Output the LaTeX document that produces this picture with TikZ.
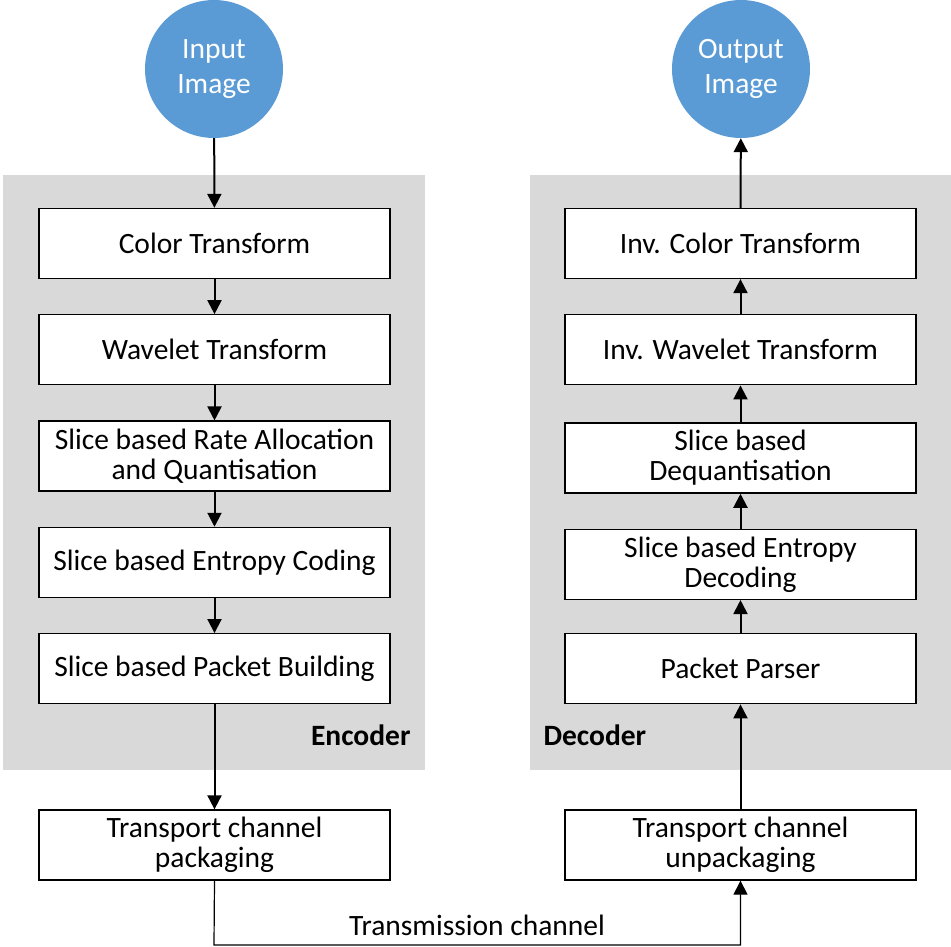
\documentclass[tikz,border=0pt]{standalone}
\usepackage{fontspec}
\setmainfont{Carlito}
\usetikzlibrary{positioning,arrows.meta}
\definecolor{imgblue}{HTML}{5B9BD5}
\definecolor{panelgray}{HTML}{D9D9D9}

\begin{document}
\begin{tikzpicture}[x=1pt, y=-1pt,
        stagebox/.style={rectangle, draw=black, fill=white, line width=1.3pt, minimum width=351pt, minimum height=70pt, inner sep=0pt, align=center, font=\fontsize{29.5}{30}\selectfont},
        imgnode/.style={circle, fill=imgblue, minimum size=138pt, inner sep=0pt, align=center, text=white, font=\fontsize{29.5}{35}\selectfont},
        grouplabel/.style={font=\fontsize{29.5}{30}\selectfont\bfseries},
        flow/.style={-{Triangle[length=14pt, width=14pt]}, line width=2pt},
        chanline/.style={-{Triangle[length=14pt, width=14pt]}, line width=1.2pt}]

        \useasboundingbox (0,0) rectangle (951,947);

        % encoder and decoder panels
        \fill[panelgray] (3,175) rectangle (425,770);
        \fill[panelgray] (530,175) rectangle (951,770);

        \node[imgnode] (inimg) at (214,69) {Input\\Image};
        \node[imgnode] (outimg) at (741,69) {Output\\Image};

        % encoder
        \node[stagebox] (ct) at (214.5,243.5) {Color Transform};
        \node[stagebox] (wt) [below=35pt of ct] {Wavelet Transform};
        \node[stagebox] (rq) [below=35pt of wt] {Slice based Rate Allocation\\and Quantisation};
        \node[stagebox] (ec) [below=35pt of rq] {Slice based Entropy Coding};
        \node[stagebox] (pb) [below=35pt of ec] {Slice based Packet Building};
        \node[stagebox] (tp) [below=105pt of pb] {Transport channel\\packaging};
        \node[grouplabel, anchor=east] (enclbl) at (414,735) {Encoder};

        % decoder
        \node[stagebox] (ict) at (740.5,243.5) {Inv. Color Transform};
        \node[stagebox] (iwt) [below=35pt of ict] {Inv. Wavelet Transform};
        \node[stagebox] (dq) [below=37pt of iwt] {Slice based\\Dequantisation};
        \node[stagebox] (ed) [below=35pt of dq] {Slice based Entropy\\Decoding};
        \node[stagebox] (pp) [below=33pt of ed] {Packet Parser};
        \node[stagebox] (tu) [below=105pt of pp] {Transport channel\\unpackaging};
        \node[grouplabel, anchor=west] (declbl) at (540,735) {Decoder};

        \draw[flow] (inimg) -- (ct);
        \draw[flow] (ct) -- (wt);
        \draw[flow] (wt) -- (rq);
        \draw[flow] (rq) -- (ec);
        \draw[flow] (ec) -- (pb);
        \draw[flow] (pb) -- (tp);

        \draw[flow] (tu) -- (pp);
        \draw[flow] (pp) -- (ed);
        \draw[flow] (ed) -- (dq);
        \draw[flow] (dq) -- (iwt);
        \draw[flow] (iwt) -- (ict);
        \draw[flow] (ict) -- (outimg);

        % transmission channel
        \coordinate (chan) at (214,945);
        \draw[chanline] (tp.south) -- (chan) -| (tu.south);
        \node[font=\fontsize{29.5}{30}\selectfont] (chanlbl) at (477,925) {Transmission channel};

\end{tikzpicture}
\end{document}
